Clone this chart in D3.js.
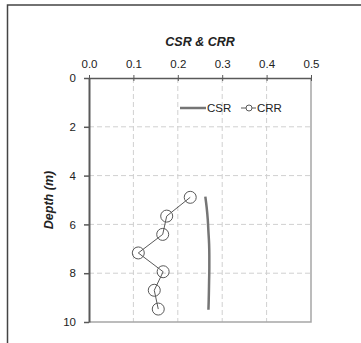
<!DOCTYPE html>
<html>
<head>
<meta charset="utf-8">
<script src="https://cdn.jsdelivr.net/npm/d3@7"></script>
<style>
  body { margin: 0; background: #fff; }
  svg { display: block; font-family: 'Liberation Sans', Arial, sans-serif; }
</style>
</head>
<body>
<div id="svg_container"></div>
<script>
// data
var crr_depth = [4.89, 5.66, 6.41, 7.17, 7.94, 8.70, 9.47];
var crr_value = [0.228, 0.175, 0.166, 0.111, 0.167, 0.147, 0.156];
var csr_depth = [4.86, 5.3, 5.8, 6.3, 6.8, 7.3, 7.8, 8.3, 8.8, 9.2, 9.5];
var csr_value = [0.262, 0.265, 0.2675, 0.269, 0.2705, 0.271, 0.271, 0.2705, 0.270, 0.2695, 0.269];
var x_ticks = [0, 0.1, 0.2, 0.3, 0.4, 0.5];
var y_ticks = [0, 2, 4, 6, 8, 10];

var W = 361, H = 343;
var plot_left = 89, plot_right = 311, plot_top = 78, plot_bottom = 322;

var svg = d3.select('#svg_container')
  .append('svg')
    .attr('width', W)
    .attr('height', H);

// outer frame (runs off the bottom/right of the picture)
svg.append('rect')
  .attr('x', 7.5)
  .attr('y', 5)
  .attr('width', 400)
  .attr('height', 400)
  .attr('fill', 'none')
  .attr('stroke', '#444')
  .attr('stroke-width', 1.5);

var x = d3.scaleLinear().domain([0, 0.5]).range([plot_left, plot_right]);
var y = d3.scaleLinear().domain([0, 10]).range([plot_top, plot_bottom]);

// dashed grid
svg.append('g')
  .selectAll('line')
  .data(x_ticks.slice(1, -1))
  .enter().append('line')
    .attr('x1', function(d) { return x(d); })
    .attr('x2', function(d) { return x(d); })
    .attr('y1', plot_top)
    .attr('y2', plot_bottom)
    .attr('stroke', '#d0d0d0')
    .attr('stroke-dasharray', '5,3');

svg.append('g')
  .selectAll('line')
  .data(y_ticks.slice(1, -1))
  .enter().append('line')
    .attr('x1', plot_left)
    .attr('x2', plot_right)
    .attr('y1', function(d) { return y(d); })
    .attr('y2', function(d) { return y(d); })
    .attr('stroke', '#d0d0d0')
    .attr('stroke-dasharray', '5,3');

// right and bottom border
svg.append('path')
  .attr('d', 'M' + plot_right + ',' + plot_top + 'V' + plot_bottom + 'H' + plot_left)
  .attr('fill', 'none')
  .attr('stroke', '#a6a6a6')
  .attr('stroke-width', 1.5);

// top axis
var xAxis = svg.append('g')
  .attr('transform', 'translate(0,' + plot_top + ')')
  .call(d3.axisTop(x).tickValues(x_ticks).tickFormat(d3.format('.1f')).tickSizeInner(3).tickSizeOuter(0).tickPadding(7));
xAxis.selectAll('.tick line')
  .attr('y2', 3).attr('y1', -3);
xAxis.select('.domain').attr('stroke', '#595959').attr('stroke-width', 1.5);
xAxis.selectAll('.tick line').attr('stroke', '#595959');
xAxis.selectAll('text')
  .attr('font-size', 11.5)
  .attr('fill', '#222')
  .attr('font-family', 'Liberation Sans, Arial, sans-serif');

// left axis
var yAxis = svg.append('g')
  .attr('transform', 'translate(' + plot_left + ',0)')
  .call(d3.axisLeft(y).tickValues(y_ticks).tickSizeInner(5).tickSizeOuter(0).tickPadding(8));
yAxis.select('.domain').attr('stroke', '#595959').attr('stroke-width', 2);
yAxis.selectAll('.tick line').attr('stroke', '#595959').attr('stroke-width', 1.5);
yAxis.selectAll('text')
  .attr('font-size', 11.5)
  .attr('fill', '#222')
  .attr('font-family', 'Liberation Sans, Arial, sans-serif');

// axis titles
svg.append('text')
  .attr('x', (plot_left + plot_right) / 2)
  .attr('y', 46)
  .attr('text-anchor', 'middle')
  .attr('font-size', 12.5)
  .attr('font-weight', 'bold')
  .attr('font-style', 'italic')
  .attr('fill', '#222')
  .text('CSR & CRR');

svg.append('text')
  .attr('transform', 'translate(53,' + (plot_top + plot_bottom) / 2 + ') rotate(-90)')
  .attr('text-anchor', 'middle')
  .attr('font-size', 12.5)
  .attr('font-weight', 'bold')
  .attr('font-style', 'italic')
  .attr('fill', '#222')
  .text('Depth (m)');

// CSR curve
var csr_line = d3.line()
  .x(function(d, i) { return x(csr_value[i]); })
  .y(function(d) { return y(d); })
  .curve(d3.curveMonotoneY);

svg.append('path')
  .attr('d', csr_line(csr_depth))
  .attr('fill', 'none')
  .attr('stroke', '#757575')
  .attr('stroke-width', 2.5);

// CRR line + markers
var crr_line = d3.line()
  .x(function(d, i) { return x(crr_value[i]); })
  .y(function(d) { return y(d); });

svg.append('path')
  .attr('d', crr_line(crr_depth))
  .attr('fill', 'none')
  .attr('stroke', '#595959')
  .attr('stroke-width', 1);

svg.append('g')
  .selectAll('circle')
  .data(crr_depth)
  .enter().append('circle')
    .attr('cx', function(d, i) { return x(crr_value[i]); })
    .attr('cy', function(d) { return y(d); })
    .attr('r', 6)
    .attr('fill', 'none')
    .attr('stroke', '#595959')
    .attr('stroke-width', 1);

// legend
var legend = svg.append('g')
  .attr('font-size', 11.5)
  .attr('fill', '#222');

legend.append('line')
  .attr('x1', 180).attr('x2', 206)
  .attr('y1', 108).attr('y2', 108)
  .attr('stroke', '#757575')
  .attr('stroke-width', 2.5);
legend.append('text')
  .attr('x', 207)
  .attr('y', 112)
  .text('CSR');

legend.append('line')
  .attr('x1', 241).attr('x2', 256)
  .attr('y1', 108).attr('y2', 108)
  .attr('stroke', '#595959')
  .attr('stroke-width', 1);
legend.append('circle')
  .attr('cx', 249).attr('cy', 108)
  .attr('r', 3)
  .attr('fill', '#fff')
  .attr('stroke', '#595959');
legend.append('text')
  .attr('x', 257)
  .attr('y', 112)
  .text('CRR');
</script>
</body>
</html>
